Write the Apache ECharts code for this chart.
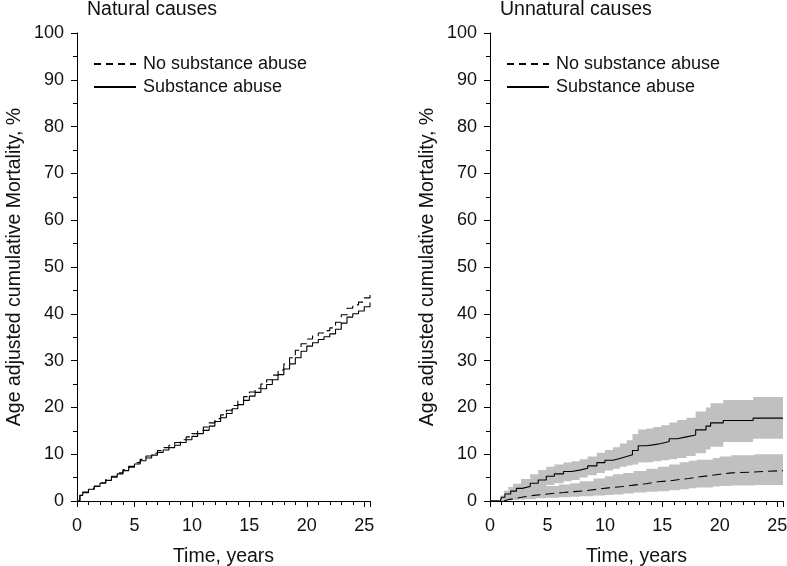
<!DOCTYPE html>
<html><head><meta charset="utf-8">
<script src="https://cdn.jsdelivr.net/npm/echarts@6/dist/echarts.min.js"></script>
<style>html,body{margin:0;padding:0;background:#fff}#c{width:787px;height:566px}</style>
</head><body><div id="c"></div>
<script>
// ---------- Data ----------
const panelTitles = ['Natural causes', 'Unnatural causes'];
const seriesNames = ['No substance abuse', 'Substance abuse'];
const yTicks = [0, 10, 20, 30, 40, 50, 60, 70, 80, 90, 100];
const xTicks = [0, 5, 10, 15, 20, 25];

// Natural causes (left panel)
const natT = [0,0.25,0.5,1,1.5,2,2.5,3,3.5,4,4.5,5,5.5,6,6.5,7,7.5,8,8.5,9,9.5,10,10.5,11,11.5,12,12.5,13,13.5,14,14.5,15,15.5,16,16.5,17,17.5,18,18.5,19,19.5,20,20.5,21,21.5,22,22.5,23,23.5,24,24.5,25,25.5];
const natNoAbuse = [0,1.2,1.9,2.6,3.2,3.9,4.6,5.3,6.0,6.7,7.4,8.2,8.9,9.6,10.2,10.8,11.4,11.9,12.5,13.1,13.7,14.4,15.1,15.8,16.7,17.6,18.4,19.4,20.4,21.4,22.3,23.3,24.1,25.0,25.9,26.9,28.0,29.3,30.6,32.2,33.6,34.6,35.3,35.9,36.4,37.0,38.2,39.8,41.2,41.9,42.5,43.4,44.4];
const natAbuse   = [0,1.2,1.8,2.5,3.1,3.8,4.4,5.1,5.8,6.5,7.2,7.9,8.6,9.2,9.8,10.4,10.9,11.4,11.9,12.5,13.1,13.8,14.4,15.1,16.0,17.0,17.8,18.7,19.7,20.6,21.5,22.4,23.2,24.0,24.9,25.9,27.0,28.2,29.3,30.6,32.0,33.1,33.8,34.5,35.1,35.7,36.7,38.0,39.3,40.0,40.6,41.5,42.4];

// Unnatural causes (right panel)
const unT_abuse = [0,0.9,1.0,1.3,1.8,2.3,2.8,3.5,4.2,4.9,5.6,6.4,7.1,7.8,8.5,9.3,10.0,10.7,11.3,11.9,12.4,12.9,13.6,14.2,14.9,15.6,16.3,17.1,17.9,18.8,19.2,20.3,22.9,25.5];
const unAbuse    = [0,0,0.8,1.5,2.1,2.7,3.1,3.8,4.5,5.3,5.8,6.3,6.6,7.0,7.5,8.2,8.7,9.1,9.5,9.9,10.8,11.8,12.0,12.3,12.7,13.3,13.7,14.1,15.2,16.0,16.7,17.2,17.7,17.7];
const unT_noAbuse = [0,1.0,1.2,1.6,2.3,3.0,3.8,4.6,5.4,6.4,7.3,8.3,9.3,10.3,11.6,12.5,13.6,14.6,15.6,16.5,17.3,18.0,19.0,20.0,21.0,23.0,25.5];
const unNoAbuse   = [0,0,0.3,0.6,0.9,1.2,1.4,1.6,1.8,2.0,2.2,2.5,2.8,3.1,3.4,3.7,4.1,4.3,4.6,4.8,5.1,5.4,5.7,6.0,6.2,6.5,6.5];

// Confidence bands (right panel)
const bandAbuseT  = [0.9,1.2,1.6,2.0,2.7,3.5,4.2,4.9,5.6,6.4,7.1,7.8,8.5,9.3,10.0,10.7,11.3,11.9,12.4,12.9,13.6,14.2,14.9,15.6,16.3,17.1,17.9,18.8,19.2,20.3,22.9,25.5];
const bandAbuseHi = [1.2,2.2,3.0,3.7,4.7,5.7,6.6,7.3,7.8,8.2,8.5,8.9,9.5,10.3,10.9,11.5,12.3,13.0,14.3,15.3,15.5,15.8,16.2,16.8,17.3,17.8,19.1,20.0,20.9,21.6,22.2,22.2];
const bandAbuseLo = [0,0.2,0.5,0.9,1.5,2.2,2.8,3.4,3.8,4.2,4.5,5.0,5.5,6.0,6.5,6.9,7.3,7.6,7.8,8.2,8.3,8.5,8.7,8.9,9.2,9.6,10.2,11.0,11.6,12.6,13.3,13.3];
const bandNoAbuseT  = [1.0,1.3,1.6,2.0,2.5,3.0,4.0,4.9,6.0,7.0,7.8,9.0,10.0,10.7,11.6,12.5,13.6,14.6,15.6,16.5,17.3,18.0,19.4,20.0,21.0,23.0,25.5];
const bandNoAbuseHi = [0.6,1.0,1.4,1.8,2.1,2.4,2.8,3.2,3.5,3.8,4.2,4.8,5.3,5.7,6.0,6.4,6.9,7.3,7.8,8.3,8.6,8.8,9.2,9.5,9.8,10.0,10.0];
const bandNoAbuseLo = [0,0.1,0.15,0.2,0.3,0.4,0.6,0.7,0.8,0.9,1.0,1.2,1.3,1.4,1.6,1.8,2.0,2.1,2.3,2.5,2.7,2.9,3.1,3.2,3.3,3.4,3.4];

// ---------- Chart ----------
const FONT = "'Liberation Sans', Arial, sans-serif";
const pairs = (t, v) => t.map((x, i) => [x, v[i]]);
const gridLefts = [77, 490];

function xAxis(i) {
  return {
    gridIndex: i, type: 'value', min: 0, max: 25.5, interval: 5,
    name: 'Time, years', nameLocation: 'middle', nameGap: 46,
    nameTextStyle: { fontFamily: FONT, fontSize: 19.5, color: '#111' },
    axisLine: { show: true, onZero: false, lineStyle: { color: '#000', width: 1 } },
    axisTick: { show: true, length: 6, lineStyle: { color: '#000' } },
    minorTick: { show: true, splitNumber: 5, length: 4, lineStyle: { color: '#000' } },
    axisLabel: { fontFamily: FONT, fontSize: 18, color: '#111', margin: 16,
      showMaxLabel: false,
      formatter: v => xTicks.includes(v) ? String(v) : '' },
    splitLine: { show: false }
  };
}
function yAxis(i) {
  return {
    gridIndex: i, type: 'value', min: 0, max: 100, interval: 10,
    name: 'Age adjusted cumulative Mortality, %', nameLocation: 'middle', nameGap: 52,
    nameTextStyle: { fontFamily: FONT, fontSize: 19.5, color: '#111' },
    axisLine: { show: true, lineStyle: { color: '#000', width: 1 } },
    axisTick: { show: true, length: 6, lineStyle: { color: '#000' } },
    minorTick: { show: true, splitNumber: 2, length: 4, lineStyle: { color: '#000' } },
    axisLabel: { fontFamily: FONT, fontSize: 18, color: '#111', margin: 13,
      formatter: v => yTicks.includes(v) ? String(v) : '' },
    splitLine: { show: false }
  };
}
function lineSeries(i, name, t, v, dashed) {
  return {
    type: 'line', name, xAxisIndex: i, yAxisIndex: i, data: pairs(t, v),
    step: 'end', symbol: 'none', silent: true, z: 5,
    lineStyle: { color: '#000', width: 1.1, type: dashed ? [9, 5] : 'solid' },
    itemStyle: { color: '#000', opacity: 0 }
  };
}
function bandSeries(i, T, lo, hi) {
  return {
    type: 'custom', xAxisIndex: i, yAxisIndex: i, silent: true, z: 2,
    data: [[T[0], lo[0]]],
    renderItem: (params, api) => {
      const pts = [];
      for (let k = 0; k < T.length - 1; k++) {
        pts.push(api.coord([T[k], hi[k]]), api.coord([T[k + 1], hi[k]]));
      }
      for (let k = T.length - 2; k >= 0; k--) {
        pts.push(api.coord([T[k + 1], lo[k]]), api.coord([T[k], lo[k]]));
      }
      return { type: 'polygon', shape: { points: pts }, style: { fill: '#c0c0c0', stroke: null } };
    }
  };
}
function legend(i) {
  return {
    left: gridLefts[i] + 16, top: 55, orient: 'vertical', padding: 0,
    itemWidth: 42, itemHeight: 14, itemGap: 5,
    selectedMode: false,
    itemStyle: { opacity: 0 },
    textStyle: { fontFamily: FONT, fontSize: 18, color: '#111', padding: [0, 0, 0, 2] },
    data: [
      { name: seriesNames[0], lineStyle: { type: [7, 5] } },
      { name: seriesNames[1] }
    ]
  };
}

const chart = echarts.init(document.getElementById('c'), null, { renderer: 'canvas' });
chart.setOption({
  animation: false,
  backgroundColor: '#fff',
  title: panelTitles.map((t, i) => ({
    text: t, left: gridLefts[i] + 10, top: 0, padding: 0,
    textStyle: { fontFamily: FONT, fontSize: 19.5, fontWeight: 'normal', color: '#111' }
  })),
  grid: gridLefts.map(l => ({ left: l, top: 33, width: 293, height: 468, containLabel: false, outerBoundsMode: 'none' })),
  xAxis: [xAxis(0), xAxis(1)],
  yAxis: [yAxis(0), yAxis(1)],
  legend: [legend(0), legend(1)],
  series: [
    lineSeries(0, seriesNames[0], natT, natNoAbuse, true),
    lineSeries(0, seriesNames[1], natT, natAbuse, false),
    bandSeries(1, bandAbuseT, bandAbuseLo, bandAbuseHi),
    bandSeries(1, bandNoAbuseT, bandNoAbuseLo, bandNoAbuseHi),
    lineSeries(1, seriesNames[0], unT_noAbuse, unNoAbuse, true),
    lineSeries(1, seriesNames[1], unT_abuse, unAbuse, false)
  ]
});
</script></body></html>
